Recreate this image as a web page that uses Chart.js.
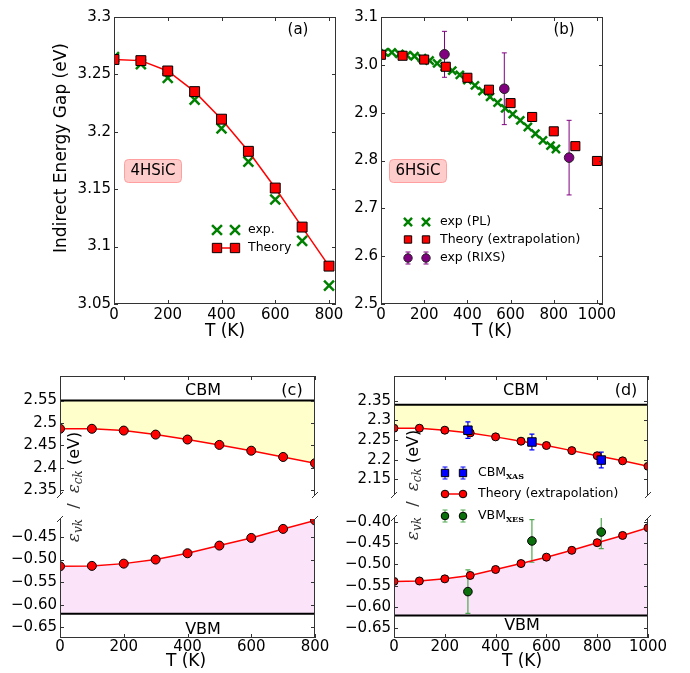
<!DOCTYPE html>
<html>
<head>
<meta charset="utf-8">
<title>SiC indirect gap vs temperature</title>
<script src="https://cdn.jsdelivr.net/npm/chart.js@4.4.1/dist/chart.umd.min.js"></script>
<style>
  html, body { margin: 0; padding: 0; background: #fff; }
  #wrap { position: relative; width: 690px; height: 673px; overflow: hidden; }
  #wrap canvas { position: absolute; left: 0; top: 0; }
</style>
</head>
<body>
<div id="wrap">
  <canvas id="pa" width="690" height="673"></canvas>
  <canvas id="pb" width="690" height="673"></canvas>
  <canvas id="pcl" width="690" height="673"></canvas>
  <canvas id="pcu" width="690" height="673"></canvas>
  <canvas id="pdl" width="690" height="673"></canvas>
  <canvas id="pdu" width="690" height="673"></canvas>
</div>
<script>
var W = 690, H = 673;

// (a) 4H-SiC
var tA = [0, 100, 200, 300, 400, 500, 600, 700, 800];
var theoryA = [3.263, 3.262, 3.253, 3.235, 3.211, 3.183, 3.151, 3.117, 3.083];
var expA = [3.265, 3.259, 3.247, 3.228, 3.203, 3.174, 3.141, 3.105, 3.066];
var xTicksA = [0, 200, 400, 600, 800];
var xLabelsA = ['0', '200', '400', '600', '800'];
var yTicksA = [3.05, 3.1, 3.15, 3.2, 3.25, 3.3];
var yLabelsA = ['3.05', '3.1', '3.15', '3.2', '3.25', '3.3'];

// (b) 6H-SiC
var tB = [0, 100, 200, 300, 400, 500, 600, 700, 800, 900, 1000];
var theoryB = [3.021, 3.019, 3.011, 2.996, 2.973, 2.948, 2.920, 2.891, 2.861, 2.830, 2.799];
var tPL = [15, 50, 85, 120, 155, 190, 225, 260, 295, 330, 365, 400, 435, 470, 505, 540, 575, 610, 645, 680, 715, 750, 785, 810];
var expPL = [3.026, 3.026, 3.023, 3.020, 3.018, 3.014, 3.009, 3.003, 2.996, 2.988, 2.979, 2.968, 2.957, 2.945, 2.933, 2.921, 2.909, 2.897, 2.884, 2.870, 2.856, 2.842, 2.831, 2.824];
var tRIXS = [294, 571, 871];
var expRIXS = [3.022, 2.950, 2.806];
var errRIXS = [0.048, 0.075, 0.078];
var xTicksB = [0, 200, 400, 600, 800, 1000];
var xLabelsB = ['0', '200', '400', '600', '800', '1000'];
var yTicksB = [2.5, 2.6, 2.7, 2.8, 2.9, 3.0, 3.1];
var yLabelsB = ['2.5', '2.6', '2.7', '2.8', '2.9', '3.0', '3.1'];

// (c) 4H-SiC band edges
var tC = [0, 100, 200, 300, 400, 500, 600, 700, 800];
var condC = [2.487, 2.487, 2.483, 2.474, 2.463, 2.451, 2.438, 2.424, 2.410];
var valC = [-0.515, -0.514, -0.509, -0.500, -0.486, -0.469, -0.452, -0.432, -0.413];
var cbmC = 2.55, vbmC = -0.62;
var yTicksCu = [2.35, 2.4, 2.45, 2.5, 2.55];
var yLabelsCu = ['2.35', '2.4', '2.45', '2.5', '2.55'];
var yTicksCl = [-0.65, -0.6, -0.55, -0.5, -0.45];
var yLabelsCl = ['\u22120.65', '\u22120.60', '\u22120.55', '\u22120.50', '\u22120.45'];

// (d) 6H-SiC band edges
var tD = [0, 100, 200, 300, 400, 500, 600, 700, 800, 900, 1000];
var condD = [2.280, 2.280, 2.275, 2.268, 2.258, 2.247, 2.236, 2.223, 2.210, 2.197, 2.183];
var valD = [-0.540, -0.539, -0.534, -0.526, -0.512, -0.498, -0.483, -0.467, -0.449, -0.432, -0.414];
var tXAS = [291, 543, 816];
var xas = [2.275, 2.245, 2.199];
var errXAS = [0.021, 0.020, 0.020];
var tXES = [291, 543, 816];
var xes = [-0.564, -0.445, -0.424];
var errXES = [0.051, 0.050, 0.039];
var cbmD = 2.34, vbmD = -0.62;
var yTicksDu = [2.15, 2.2, 2.25, 2.3, 2.35];
var yLabelsDu = ['2.15', '2.2', '2.25', '2.3', '2.35'];
var yTicksDl = [-0.65, -0.6, -0.55, -0.5, -0.45, -0.4];
var yLabelsDl = ['\u22120.65', '\u22120.60', '\u22120.55', '\u22120.50', '\u22120.45', '\u22120.40'];

var RED = '#ff0000', GREEN = '#008000', PURPLE = '#800080', BLUE = '#0000ff', DKGREEN = '#0b700b';
var YELLOW = '#ffffcc', PINK = '#fbe4fa';

function pts(xs, ys) {
  return xs.map(function (x, i) { return { x: x, y: ys[i] }; });
}

// extra drawing for each canvas: frame, inward ticks, texts, legends, error bars
var DECO = {};

function marker(ctx, m, x, y) {
  ctx.save();
  ctx.lineWidth = m.bw;
  ctx.strokeStyle = m.edge;
  ctx.fillStyle = m.fill || 'rgba(0,0,0,0)';
  ctx.beginPath();
  if (m.style === 'rect') {
    var s = m.r * Math.SQRT1_2;
    ctx.rect(x - s, y - s, 2 * s, 2 * s);
    ctx.fill(); ctx.stroke();
  } else if (m.style === 'circle') {
    ctx.arc(x, y, m.r, 0, 2 * Math.PI);
    ctx.fill(); ctx.stroke();
  } else {
    var d = m.r * Math.SQRT1_2;
    ctx.moveTo(x - d, y - d); ctx.lineTo(x + d, y + d);
    ctx.moveTo(x + d, y - d); ctx.lineTo(x - d, y + d);
    ctx.stroke();
  }
  ctx.restore();
}

function errbar(ctx, color, lw, x, lo, hi, cap) {
  ctx.save();
  ctx.strokeStyle = color; ctx.lineWidth = lw;
  ctx.beginPath();
  ctx.moveTo(x, lo); ctx.lineTo(x, hi);
  ctx.moveTo(x - cap, lo); ctx.lineTo(x + cap, lo);
  ctx.moveTo(x - cap, hi); ctx.lineTo(x + cap, hi);
  ctx.stroke();
  ctx.restore();
}

function drawText(ctx, s) {
  ctx.save();
  ctx.translate(s.x, s.y);
  if (s.rot) ctx.rotate(s.rot * Math.PI / 180);
  var runs = s.runs || [{ t: s.t, font: (s.size || 15) + 'px "DejaVu Sans"' }];
  var total = 0;
  runs.forEach(function (r) { ctx.font = r.font; r.w = ctx.measureText(r.t).width; total += r.w; });
  var x0 = s.align === 'left' ? 0 : -total / 2;
  if (s.box) {
    var bx = x0 - s.box.padX, bw = total + 2 * s.box.padX, bh = s.box.h, by = -bh / 2, rr = 4;
    ctx.beginPath();
    ctx.moveTo(bx + rr, by);
    ctx.arcTo(bx + bw, by, bx + bw, by + bh, rr);
    ctx.arcTo(bx + bw, by + bh, bx, by + bh, rr);
    ctx.arcTo(bx, by + bh, bx, by, rr);
    ctx.arcTo(bx, by, bx + bw, by, rr);
    ctx.closePath();
    ctx.fillStyle = s.box.fill; ctx.fill();
    ctx.strokeStyle = s.box.edge; ctx.lineWidth = 1; ctx.stroke();
  }
  ctx.textBaseline = 'middle';
  ctx.textAlign = 'left';
  runs.forEach(function (r) {
    ctx.font = r.font;
    ctx.fillStyle = r.color || '#000';
    ctx.fillText(r.t, x0, r.dy || 0);
    x0 += r.w;
  });
  ctx.restore();
}

var deco = {
  id: 'deco',
  beforeDatasetsDraw: function (chart) {
    var o = DECO[chart.canvas.id];
    if (!o || !o.errors) return;
    var ctx = chart.ctx, a = chart.chartArea, sx = chart.scales.x, sy = chart.scales.y;
    ctx.save();
    ctx.beginPath();
    ctx.rect(a.left, a.top, a.right - a.left, a.bottom - a.top);
    ctx.clip();
    o.errors.forEach(function (e) {
      e.xs.forEach(function (xv, i) {
        errbar(ctx, e.color, e.lw, sx.getPixelForValue(xv),
          sy.getPixelForValue(e.ys[i] - e.errs[i]), sy.getPixelForValue(e.ys[i] + e.errs[i]), e.cap);
      });
    });
    ctx.restore();
  },
  afterDraw: function (chart) {
    var o = DECO[chart.canvas.id];
    if (!o) return;
    var ctx = chart.ctx, a = chart.chartArea, sx = chart.scales.x, sy = chart.scales.y;
    var L = a.left, R = a.right, T = a.top, B = a.bottom, sides = o.sides;
    ctx.save();
    ctx.strokeStyle = '#333';
    ctx.lineWidth = 1;
    ctx.beginPath();
    if (sides.indexOf('l') >= 0) { ctx.moveTo(L + 0.5, T); ctx.lineTo(L + 0.5, B); }
    if (sides.indexOf('r') >= 0) { ctx.moveTo(R - 0.5, T); ctx.lineTo(R - 0.5, B); }
    if (sides.indexOf('t') >= 0) { ctx.moveTo(L, T + 0.5); ctx.lineTo(R, T + 0.5); }
    if (sides.indexOf('b') >= 0) { ctx.moveTo(L, B - 0.5); ctx.lineTo(R, B - 0.5); }
    sy.ticks.forEach(function (t) {
      var py = Math.round(sy.getPixelForValue(t.value)) + 0.5;
      ctx.moveTo(L, py); ctx.lineTo(L + 4, py);
      ctx.moveTo(R, py); ctx.lineTo(R - 4, py);
    });
    sx.ticks.forEach(function (t) {
      var px = Math.round(sx.getPixelForValue(t.value)) + 0.5;
      if (sides.indexOf('t') >= 0) { ctx.moveTo(px, T); ctx.lineTo(px, T + 4); }
      if (sides.indexOf('b') >= 0) { ctx.moveTo(px, B); ctx.lineTo(px, B - 4); }
    });
    if (o.brk) {
      var by = o.brk === 'top' ? T : B;
      [L, R].forEach(function (bx) { ctx.moveTo(bx - 3, by + 3); ctx.lineTo(bx + 3, by - 3); });
    }
    ctx.stroke();
    ctx.restore();

    (o.texts || []).forEach(function (s) { drawText(ctx, s); });

    var lg = o.legend;
    if (lg) {
      lg.items.forEach(function (it) {
        if (it.line) {
          ctx.save();
          ctx.strokeStyle = it.line; ctx.lineWidth = 1.5;
          ctx.beginPath(); ctx.moveTo(lg.x1, it.y); ctx.lineTo(lg.x2, it.y); ctx.stroke();
          ctx.restore();
        }
        [lg.x1, lg.x2].forEach(function (mx) {
          if (it.err) errbar(ctx, it.err.color, 1, mx, it.y - it.err.h, it.y + it.err.h, it.err.cap);
          marker(ctx, it.m, mx, it.y);
        });
        var runs = it.runs || [{ t: it.label, font: lg.size + 'px "DejaVu Sans"' }];
        drawText(ctx, { x: lg.tx, y: it.y, runs: runs, align: 'left' });
      });
    }
  }
};

function axis(range, ticks, labels, pad, fit) {
  return {
    type: 'linear',
    min: range[0],
    max: range[1],
    grid: { display: false, drawTicks: false },
    border: { display: false },
    ticks: {
      display: !!labels,
      padding: pad,
      color: '#000',
      font: { family: 'DejaVu Sans', size: 15 },
      autoSkip: false,
      maxRotation: 0,
      callback: function (v, i) { return labels ? labels[i] : ''; }
    },
    afterBuildTicks: function (s) {
      s.ticks = ticks.map(function (v) { return { value: v }; });
    },
    afterFit: fit
  };
}

function makeChart(id, p) {
  var area = p.area;
  DECO[id] = p.deco;
  return new Chart(document.getElementById(id), {
    type: 'line',
    data: { datasets: p.datasets },
    options: {
      responsive: false,
      animation: false,
      devicePixelRatio: 1,
      events: [],
      layout: { padding: { left: 0, top: area[1], right: W - area[2], bottom: 0 } },
      plugins: {
        legend: { display: false },
        tooltip: { enabled: false },
        filler: { drawTime: 'beforeDatasetsDraw' }
      },
      scales: {
        x: axis(p.xRange, p.xTicks, p.xLabels, p.xPad === undefined ? 3 : p.xPad, function (s) { s.height = H - area[3]; }),
        y: axis(p.yRange, p.yTicks, p.yLabels, 3, function (s) { s.width = area[0]; })
      }
    },
    plugins: [deco]
  });
}

function epsLabel(x, y) {
  var g = '#333';
  return {
    x: x, y: y, rot: -90,
    runs: [
      { t: '\u03b5', font: 'italic 17px "DejaVu Serif"', color: g },
      { t: 'vk', font: 'italic 12px "DejaVu Serif"', dy: 4, color: g },
      { t: '  /  ', font: '16px "DejaVu Sans"', color: g },
      { t: '\u03b5', font: 'italic 17px "DejaVu Serif"', color: g },
      { t: 'ck', font: 'italic 12px "DejaVu Serif"', dy: 4, color: g },
      { t: ' (eV)', font: '16px "DejaVu Sans"', color: '#000' }
    ]
  };
}

// ---------- (a) ----------
makeChart('pa', {
  area: [114, 17, 336, 304],
  xRange: [0, 826], xTicks: xTicksA, xLabels: xLabelsA, xPad: 2,
  yRange: [3.05, 3.3], yTicks: yTicksA, yLabels: yLabelsA,
  datasets: [
    { data: pts(tA, theoryA), showLine: true, borderColor: RED, borderWidth: 1.5,
      pointStyle: 'rect', pointRadius: 7, pointBackgroundColor: RED, pointBorderColor: '#000',
      pointBorderWidth: 1, clip: 0, order: 1 },
    { data: pts(tA, expA), showLine: false, pointStyle: 'crossRot', pointRadius: 7,
      pointBorderColor: GREEN, pointBackgroundColor: GREEN, pointBorderWidth: 2.5, clip: 0, order: 2 }
  ],
  deco: {
    sides: 'lrtb',
    texts: [
      { t: '(a)', x: 298, y: 30, size: 15 },
      { t: '4HSiC', x: 153, y: 171, size: 15, box: { fill: '#ffcccc', edge: '#ff9f9f', padX: 6, h: 23 } },
      { t: 'Indirect Energy Gap (eV)', x: 62, y: 148, size: 17, rot: -90 },
      { t: 'T (K)', x: 225, y: 332, size: 17 }
    ],
    legend: {
      x1: 217, x2: 235, tx: 248, size: 12.5,
      items: [
        { y: 230, label: 'exp.', m: { style: 'crossRot', r: 7, edge: GREEN, bw: 2.5 } },
        { y: 248, label: 'Theory', line: RED, m: { style: 'rect', r: 6.6, fill: RED, edge: '#000', bw: 1 } }
      ]
    }
  }
});

// ---------- (b) ----------
makeChart('pb', {
  area: [381, 17, 603, 304],
  xRange: [0, 1028], xTicks: xTicksB, xLabels: xLabelsB, xPad: 2,
  yRange: [2.5, 3.1], yTicks: yTicksB, yLabels: yLabelsB,
  datasets: [
    { data: pts(tRIXS, expRIXS), showLine: false, pointStyle: 'circle', pointRadius: 4.8,
      pointBackgroundColor: PURPLE, pointBorderColor: '#222', pointBorderWidth: 1, clip: 0, order: 1 },
    { data: pts(tB, theoryB), showLine: false, pointStyle: 'rect', pointRadius: 6.4,
      pointBackgroundColor: RED, pointBorderColor: '#000', pointBorderWidth: 1, clip: 0, order: 2 },
    { data: pts(tPL, expPL), showLine: false, pointStyle: 'crossRot', pointRadius: 5.7,
      pointBorderColor: GREEN, pointBackgroundColor: GREEN, pointBorderWidth: 2.5, clip: 0, order: 3 }
  ],
  deco: {
    sides: 'lrtb',
    errors: [{ xs: tRIXS, ys: expRIXS, errs: errRIXS, color: PURPLE, lw: 1, cap: 2.5 }],
    texts: [
      { t: '(b)', x: 564, y: 30, size: 15 },
      { t: '6HSiC', x: 418, y: 171, size: 15, box: { fill: '#ffcccc', edge: '#ff9f9f', padX: 6, h: 23 } },
      { t: 'T (K)', x: 492, y: 332, size: 17 }
    ],
    legend: {
      x1: 408, x2: 426, tx: 440, size: 12.5,
      items: [
        { y: 222, label: 'exp (PL)', m: { style: 'crossRot', r: 5.7, edge: GREEN, bw: 2.5 } },
        { y: 239.5, label: 'Theory (extrapolation)', m: { style: 'rect', r: 5.2, fill: RED, edge: '#000', bw: 1 } },
        { y: 258, label: 'exp (RIXS)', err: { color: PURPLE, h: 6, cap: 2.5 },
          m: { style: 'circle', r: 4.2, fill: PURPLE, edge: '#222', bw: 1 } }
      ]
    }
  }
});

// ---------- (c) lower ----------
makeChart('pcl', {
  area: [60, 519, 315, 638],
  xRange: [0, 800], xTicks: xTicksA, xLabels: xLabelsA, xPad: 0,
  yRange: [-0.674, -0.41], yTicks: yTicksCl, yLabels: yLabelsCl,
  datasets: [
    { data: pts(tC, valC), showLine: true, borderColor: RED, borderWidth: 1.5,
      fill: { value: vbmC }, backgroundColor: PINK,
      pointStyle: 'circle', pointRadius: 4.5, pointBackgroundColor: RED, pointBorderColor: '#000',
      pointBorderWidth: 1, clip: 0, order: 1 },
    { data: pts([0, 800], [vbmC, vbmC]), showLine: true, borderColor: '#000', borderWidth: 2,
      pointRadius: 0, clip: 0, order: 2 }
  ],
  deco: {
    sides: 'lrb', brk: 'top',
    texts: [
      { t: 'VBM', x: 203, y: 630, size: 16 },
      { t: 'T (K)', x: 186, y: 662, size: 17 }
    ]
  }
});

// ---------- (c) upper ----------
makeChart('pcu', {
  area: [60, 376, 315, 495],
  xRange: [0, 800], xTicks: xTicksA, xLabels: null,
  yRange: [2.339, 2.605], yTicks: yTicksCu, yLabels: yLabelsCu,
  datasets: [
    { data: pts(tC, condC), showLine: true, borderColor: RED, borderWidth: 1.5,
      fill: { value: cbmC }, backgroundColor: YELLOW,
      pointStyle: 'circle', pointRadius: 4.5, pointBackgroundColor: RED, pointBorderColor: '#000',
      pointBorderWidth: 1, clip: 0, order: 1 },
    { data: pts([0, 800], [cbmC, cbmC]), showLine: true, borderColor: '#000', borderWidth: 2,
      pointRadius: 0, clip: 0, order: 2 }
  ],
  deco: {
    sides: 'lrt', brk: 'bottom',
    texts: [
      { t: 'CBM', x: 203, y: 391, size: 16 },
      { t: '(c)', x: 292, y: 391, size: 16 },
      epsLabel(75, 487)
    ]
  }
});

// ---------- (d) lower ----------
makeChart('pdl', {
  area: [394, 518, 648, 638],
  xRange: [0, 1000], xTicks: xTicksB, xLabels: xLabelsB, xPad: 0,
  yRange: [-0.673, -0.391], yTicks: yTicksDl, yLabels: yLabelsDl,
  datasets: [
    { data: pts(tXES, xes), showLine: false, pointStyle: 'circle', pointRadius: 4.3,
      pointBackgroundColor: DKGREEN, pointBorderColor: '#000', pointBorderWidth: 1, clip: 0, order: 1 },
    { data: pts(tD, valD), showLine: true, borderColor: RED, borderWidth: 1.5,
      fill: { value: vbmD }, backgroundColor: PINK,
      pointStyle: 'circle', pointRadius: 4, pointBackgroundColor: RED, pointBorderColor: '#000',
      pointBorderWidth: 1, clip: 0, order: 2 },
    { data: pts([0, 1000], [vbmD, vbmD]), showLine: true, borderColor: '#000', borderWidth: 2,
      pointRadius: 0, clip: 0, order: 3 }
  ],
  deco: {
    sides: 'lrb', brk: 'top',
    errors: [{ xs: tXES, ys: xes, errs: errXES, color: '#4fa84f', lw: 1.2, cap: 2.5 }],
    texts: [
      { t: 'VBM', x: 522, y: 626, size: 16 },
      { t: 'T (K)', x: 522, y: 662, size: 17 }
    ]
  }
});

// ---------- (d) upper ----------
makeChart('pdu', {
  area: [394, 376, 648, 495],
  xRange: [0, 1000], xTicks: xTicksB, xLabels: null,
  yRange: [2.11, 2.413], yTicks: yTicksDu, yLabels: yLabelsDu,
  datasets: [
    { data: pts(tXAS, xas), showLine: false, pointStyle: 'rect', pointRadius: 6,
      pointBackgroundColor: BLUE, pointBorderColor: '#000', pointBorderWidth: 1, clip: 0, order: 1 },
    { data: pts(tD, condD), showLine: true, borderColor: RED, borderWidth: 1.5,
      fill: { value: cbmD }, backgroundColor: YELLOW,
      pointStyle: 'circle', pointRadius: 4, pointBackgroundColor: RED, pointBorderColor: '#000',
      pointBorderWidth: 1, clip: 0, order: 2 },
    { data: pts([0, 1000], [cbmD, cbmD]), showLine: true, borderColor: '#000', borderWidth: 2,
      pointRadius: 0, clip: 0, order: 3 }
  ],
  deco: {
    sides: 'lrt', brk: 'bottom',
    errors: [{ xs: tXAS, ys: xas, errs: errXAS, color: BLUE, lw: 1.2, cap: 2.5 }],
    texts: [
      { t: 'CBM', x: 521, y: 391, size: 16 },
      { t: '(d)', x: 626, y: 391, size: 16 },
      epsLabel(414, 485)
    ],
    legend: {
      x1: 445, x2: 463, tx: 478, size: 12.5,
      items: [
        { y: 473, err: { color: BLUE, h: 6, cap: 2.5 }, m: { style: 'rect', r: 5.2, fill: BLUE, edge: '#000', bw: 1 },
          runs: [{ t: 'CBM', font: '12.5px "DejaVu Sans"' }, { t: 'XAS', font: 'bold 8px "DejaVu Serif"', dy: 4 }] },
        { y: 494, label: 'Theory (extrapolation)', line: RED,
          m: { style: 'circle', r: 3.8, fill: RED, edge: '#000', bw: 1 } },
        { y: 516, err: { color: '#4fa84f', h: 6, cap: 2.5 }, m: { style: 'circle', r: 3.8, fill: DKGREEN, edge: '#000', bw: 1 },
          runs: [{ t: 'VBM', font: '12.5px "DejaVu Sans"' }, { t: 'XES', font: 'bold 8px "DejaVu Serif"', dy: 4 }] }
      ]
    }
  }
});
</script>
</body>
</html>
